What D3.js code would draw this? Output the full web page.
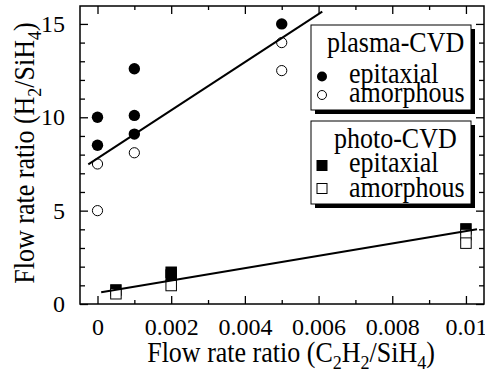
<!DOCTYPE html>
<html>
<head>
<meta charset="utf-8">
<script src="https://cdn.jsdelivr.net/npm/d3@7"></script>
<style>
    body { margin: 0; background: #fff; }
    svg text { font-family: "Liberation Serif", "Tinos", "Times New Roman", "DejaVu Serif", serif; fill: #000; }
</style>
</head>
<body>
<div class="data_figure"></div>
<script>
const width = 485;
const height = 372;

// plot frame in pixels
const frame = { left: 80, right: 484, top: 6, bottom: 304 };

// plasma-CVD
const plasmaEpitaxial = [
    { x: 0, y: 10.0 }, { x: 0, y: 8.5 },
    { x: 0.001, y: 12.6 }, { x: 0.001, y: 10.1 }, { x: 0.001, y: 9.1 },
    { x: 0.005, y: 15.0 }
];
const plasmaAmorphous = [
    { x: 0, y: 7.5 }, { x: 0, y: 5.0 },
    { x: 0.001, y: 8.1 },
    { x: 0.005, y: 14.0 }, { x: 0.005, y: 12.5 }
];
const plasmaFit = [{ x: -0.00025, y: 7.48 }, { x: 0.0061, y: 15.66 }];

// photo-CVD
const photoEpitaxial = [
    { x: 0.0005, y: 0.75 },
    { x: 0.002, y: 1.7 }, { x: 0.002, y: 1.55 },
    { x: 0.01, y: 4.02 }
];
const photoAmorphous = [
    { x: 0.0005, y: 0.55 },
    { x: 0.002, y: 0.99 },
    { x: 0.01, y: 3.72 }, { x: 0.01, y: 3.26 }
];
const photoFit = [{ x: 0.0001, y: 0.63 }, { x: 0.0103, y: 4.0 }];

const xMajor = [0, 0.002, 0.004, 0.006, 0.008, 0.01];
const xMinor = [0.001, 0.003, 0.005, 0.007, 0.009];
const xLabels = ["0", "0.002", "0.004", "0.006", "0.008", "0.01"];
const yMajor = [0, 5, 10, 15];
const yMinor = [1, 2, 3, 4, 6, 7, 8, 9, 11, 12, 13, 14];
const legendLabels = ["epitaxial", "amorphous"];

const serif = "'Liberation Serif', 'Tinos', 'Times New Roman', 'DejaVu Serif', serif";
const dotR = 5.7;
const sq = 10.5;
const stretch = 1.1;   // the original type is a bit taller than Times

const xScale = d3.scaleLinear()
        .domain([-0.000475, 0.01049])
        .range([frame.left, frame.right]);

const yScale = d3.scaleLinear()
        .domain([0, 15.96])
        .range([frame.bottom, frame.top]);

let svg = d3.select(".data_figure")
            .append("svg")
            .attr("width", width)
            .attr("height", height)
            .attr("font-family", serif);

// axes: ticks point inward on all four sides
function addAxis(axis, tx, ty) {
    let g = svg.append("g")
        .attr("transform", "translate(" + tx + "," + ty + ")")
        .call(axis);
    g.attr("font-family", serif).attr("font-size", 24);
    g.select(".domain").remove();
    g.selectAll("line").attr("stroke", "#000").attr("stroke-width", 1.3);
    g.selectAll("text").attr("fill", "#000");
    return g;
}

addAxis(d3.axisBottom(xScale).tickValues(xMajor).tickSize(-8).tickPadding(14)
        .tickFormat((d, i) => xLabels[i]), 0, frame.bottom);
addAxis(d3.axisBottom(xScale).tickValues(xMinor).tickSize(-4).tickFormat(""), 0, frame.bottom);
addAxis(d3.axisTop(xScale).tickValues(xMajor).tickSize(-8).tickFormat(""), 0, frame.top);
addAxis(d3.axisTop(xScale).tickValues(xMinor).tickSize(-4).tickFormat(""), 0, frame.top);

addAxis(d3.axisLeft(yScale).tickValues(yMajor).tickSize(-8).tickPadding(15), frame.left, 0);
addAxis(d3.axisLeft(yScale).tickValues(yMinor).tickSize(-5).tickFormat(""), frame.left, 0);
addAxis(d3.axisRight(yScale).tickValues(yMajor).tickSize(-8).tickFormat(""), frame.right, 0);
addAxis(d3.axisRight(yScale).tickValues(yMinor).tickSize(-5).tickFormat(""), frame.right, 0);

svg.append("rect")
    .attr("x", frame.left)
    .attr("y", frame.top)
    .attr("width", frame.right - frame.left)
    .attr("height", frame.bottom - frame.top)
    .attr("fill", "none")
    .attr("stroke", "#000")
    .attr("stroke-width", 1.5);

// axis titles with subscripts: shift down for the subscript, back up after it
function subLabel(parent, parts) {
    let shifted = false;
    parts.forEach((p) => {
        let ts = parent.append("tspan").text(p.t);
        if (p.sub) {
            ts.attr("dy", 6).style("font-size", "18px");
            shifted = true;
        } else if (shifted) {
            ts.attr("dy", -6);
            shifted = false;
        }
    });
}

let xTitle = svg.append("text")
    .attr("transform", "translate(291,362) scale(1," + stretch + ")")
    .attr("text-anchor", "middle")
    .style("font-size", "26px");
subLabel(xTitle, [{ t: "Flow rate ratio (C" }, { t: "2", sub: true }, { t: "H" },
    { t: "2", sub: true }, { t: "/SiH" }, { t: "4", sub: true }, { t: ")" }]);

let yTitle = svg.append("text")
    .attr("transform", "translate(34,153) rotate(-90) scale(1," + stretch + ")")
    .attr("text-anchor", "middle")
    .style("font-size", "26px");
subLabel(yTitle, [{ t: "Flow rate ratio (H" }, { t: "2", sub: true },
    { t: "/SiH" }, { t: "4", sub: true }, { t: ")" }]);

// markers
function circles(data, filled) {
    svg.selectAll(null)
        .data(data)
        .enter()
        .append("circle")
        .attr("cx", (d) => xScale(d.x))
        .attr("cy", (d) => yScale(d.y))
        .attr("r", filled ? dotR : dotR - 0.6)
        .attr("fill", filled ? "#000" : "#fff")
        .attr("stroke", "#000")
        .attr("stroke-width", filled ? 0 : 1);
}

function squares(data, filled) {
    svg.selectAll(null)
        .data(data)
        .enter()
        .append("rect")
        .attr("x", (d) => xScale(d.x) - sq / 2)
        .attr("y", (d) => yScale(d.y) - sq / 2)
        .attr("width", sq)
        .attr("height", sq)
        .attr("fill", filled ? "#000" : "#fff")
        .attr("stroke", "#000")
        .attr("stroke-width", 1);
}

circles(plasmaEpitaxial, true);
circles(plasmaAmorphous, false);
squares(photoEpitaxial, true);
squares(photoAmorphous, false);

const line = d3.line().x((d) => xScale(d.x)).y((d) => yScale(d.y));
[plasmaFit, photoFit].forEach((fit) => {
    svg.append("path")
        .attr("d", line(fit))
        .attr("fill", "none")
        .attr("stroke", "#000")
        .attr("stroke-width", 2);
});

// legends
const legends = [
    { title: "plasma-CVD", titleX: 327, y: 25, h: 85, shape: "circle",
      titleY: 52, rows: [82.5, 102], marks: [76.5, 95] },
    { title: "photo-CVD", titleX: 334, y: 121, h: 83, shape: "square",
      titleY: 148, rows: [172, 196.5], marks: [165.5, 188.5] }
];

function legendText(g, txt, x, y) {
    g.append("text")
        .text(txt)
        .attr("transform", "translate(" + x + "," + y + ") scale(1," + stretch + ")")
        .style("font-size", "26px");
}

legends.forEach((lg) => {
    let g = svg.append("g");
    g.append("rect")
        .attr("x", 315).attr("y", lg.y + 4)
        .attr("width", 160).attr("height", lg.h)
        .attr("fill", "#000");
    g.append("rect")
        .attr("x", 311).attr("y", lg.y)
        .attr("width", 160).attr("height", lg.h)
        .attr("fill", "#fff")
        .attr("stroke", "#000")
        .attr("stroke-width", 1);
    legendText(g, lg.title, lg.titleX, lg.titleY);
    legendLabels.forEach((lab, i) => {
        const cy = lg.marks[i];
        if (lg.shape === "circle") {
            g.append("circle")
                .attr("cx", 322).attr("cy", cy)
                .attr("r", i === 0 ? 5 : 4.5)
                .attr("fill", i === 0 ? "#000" : "#fff")
                .attr("stroke", "#000")
                .attr("stroke-width", i === 0 ? 0 : 1);
        } else {
            g.append("rect")
                .attr("x", 322 - 5).attr("y", cy - 5)
                .attr("width", 10).attr("height", 10)
                .attr("fill", i === 0 ? "#000" : "#fff")
                .attr("stroke", "#000")
                .attr("stroke-width", 1);
        }
        legendText(g, lab, 349, lg.rows[i]);
    });
});
</script>
</body>
</html>
